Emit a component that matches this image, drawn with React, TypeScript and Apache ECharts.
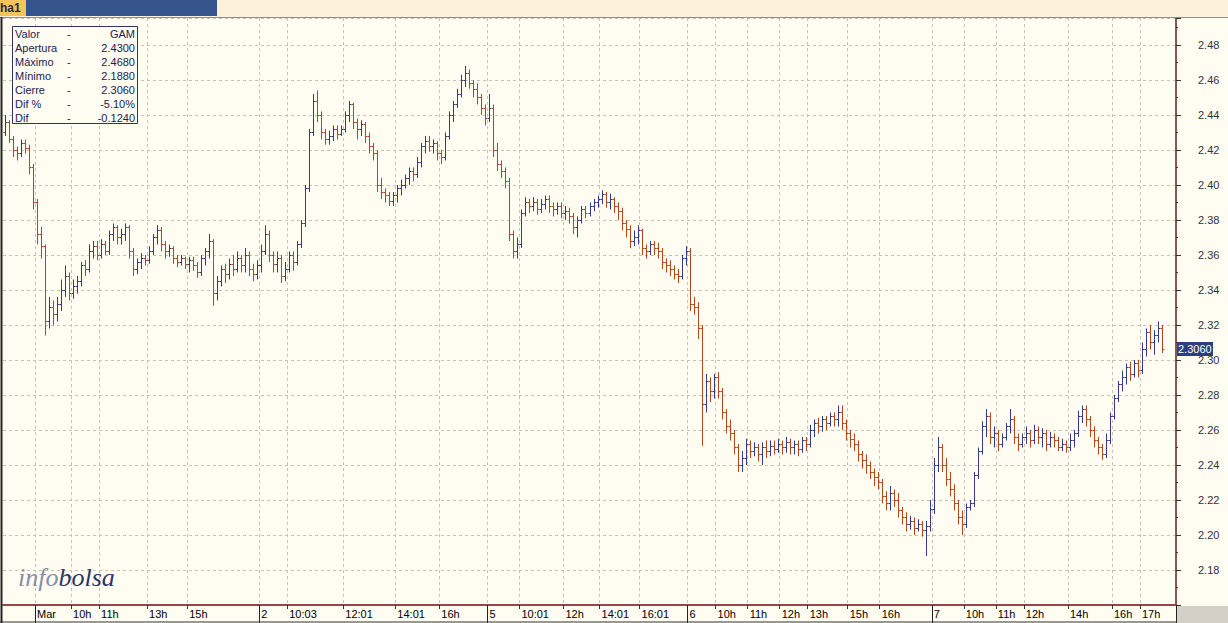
import React, { useEffect, useRef } from "react";
import * as echarts from "echarts";

// OHLC bars: [open, close, low, high]
const PRE_BARS: number[][] = [
  [2.430, 2.436, 2.428, 2.440], [2.436, 2.426, 2.424, 2.437], [2.426, 2.420, 2.416, 2.428], [2.420, 2.418, 2.414, 2.422],
  [2.418, 2.424, 2.416, 2.426], [2.424, 2.421, 2.418, 2.426], [2.421, 2.410, 2.406, 2.423], [2.410, 2.390, 2.386, 2.412],
];
const MAR1_BARS: number[][] = [
  [2.390, 2.372, 2.366, 2.392], [2.372, 2.365, 2.358, 2.376], [2.365, 2.322, 2.314, 2.366], [2.322, 2.330, 2.318, 2.336],
  [2.330, 2.326, 2.320, 2.334], [2.326, 2.332, 2.322, 2.336], [2.332, 2.340, 2.328, 2.346], [2.340, 2.348, 2.336, 2.354],
  [2.348, 2.338, 2.334, 2.350], [2.338, 2.342, 2.335, 2.346], [2.342, 2.345, 2.338, 2.348], [2.345, 2.354, 2.342, 2.356],
  [2.354, 2.352, 2.348, 2.357], [2.352, 2.362, 2.350, 2.366], [2.362, 2.365, 2.358, 2.368], [2.365, 2.360, 2.357, 2.368],
  [2.360, 2.366, 2.358, 2.369], [2.366, 2.362, 2.360, 2.368], [2.362, 2.372, 2.360, 2.374], [2.372, 2.376, 2.368, 2.378],
  [2.376, 2.370, 2.366, 2.377], [2.370, 2.372, 2.366, 2.375], [2.372, 2.376, 2.368, 2.378], [2.376, 2.362, 2.358, 2.377],
  [2.362, 2.352, 2.348, 2.364], [2.352, 2.356, 2.349, 2.358], [2.356, 2.358, 2.352, 2.361], [2.358, 2.357, 2.354, 2.360],
  [2.357, 2.362, 2.355, 2.365], [2.362, 2.370, 2.360, 2.372], [2.370, 2.374, 2.366, 2.377], [2.374, 2.366, 2.362, 2.376],
  [2.366, 2.362, 2.358, 2.368], [2.362, 2.364, 2.359, 2.366], [2.364, 2.358, 2.355, 2.365], [2.358, 2.356, 2.353, 2.360],
  [2.356, 2.358, 2.354, 2.360], [2.358, 2.355, 2.352, 2.359], [2.355, 2.357, 2.350, 2.359], [2.357, 2.354, 2.351, 2.359],
  [2.354, 2.350, 2.347, 2.356], [2.350, 2.358, 2.348, 2.360], [2.358, 2.362, 2.354, 2.364], [2.362, 2.368, 2.358, 2.372],
  [2.368, 2.338, 2.331, 2.369], [2.338, 2.345, 2.334, 2.348], [2.345, 2.352, 2.342, 2.354], [2.352, 2.349, 2.344, 2.355],
  [2.349, 2.355, 2.346, 2.358], [2.355, 2.352, 2.348, 2.360], [2.352, 2.358, 2.350, 2.362], [2.358, 2.354, 2.350, 2.360],
  [2.354, 2.360, 2.350, 2.364], [2.360, 2.352, 2.348, 2.362], [2.352, 2.349, 2.345, 2.355], [2.349, 2.354, 2.346, 2.357],
];
const DAY2_BARS: number[][] = [
  [2.354, 2.362, 2.350, 2.366], [2.362, 2.372, 2.360, 2.377], [2.372, 2.360, 2.356, 2.374], [2.360, 2.355, 2.350, 2.362],
  [2.355, 2.358, 2.350, 2.362], [2.358, 2.348, 2.344, 2.360], [2.348, 2.352, 2.345, 2.356], [2.352, 2.360, 2.350, 2.362],
  [2.360, 2.356, 2.351, 2.362], [2.356, 2.366, 2.354, 2.368], [2.366, 2.378, 2.364, 2.380], [2.378, 2.398, 2.376, 2.400],
  [2.398, 2.430, 2.396, 2.432], [2.430, 2.448, 2.428, 2.452], [2.448, 2.440, 2.436, 2.454], [2.440, 2.430, 2.426, 2.442],
  [2.430, 2.426, 2.423, 2.432], [2.426, 2.428, 2.423, 2.431], [2.428, 2.432, 2.425, 2.434], [2.432, 2.429, 2.426, 2.434],
  [2.429, 2.432, 2.428, 2.434], [2.432, 2.440, 2.430, 2.442], [2.440, 2.446, 2.436, 2.448], [2.446, 2.436, 2.432, 2.447],
  [2.436, 2.432, 2.426, 2.438], [2.432, 2.435, 2.428, 2.437], [2.435, 2.428, 2.424, 2.436], [2.428, 2.422, 2.418, 2.430],
  [2.422, 2.418, 2.414, 2.424], [2.418, 2.400, 2.396, 2.420], [2.400, 2.396, 2.392, 2.404], [2.396, 2.394, 2.390, 2.398],
  [2.394, 2.391, 2.388, 2.396], [2.391, 2.394, 2.388, 2.396], [2.394, 2.398, 2.390, 2.400], [2.398, 2.400, 2.394, 2.403],
  [2.400, 2.404, 2.398, 2.406], [2.404, 2.408, 2.400, 2.410], [2.408, 2.406, 2.402, 2.410], [2.406, 2.413, 2.404, 2.416],
  [2.413, 2.422, 2.410, 2.424], [2.422, 2.425, 2.418, 2.428], [2.425, 2.422, 2.419, 2.428], [2.422, 2.424, 2.418, 2.426],
  [2.424, 2.418, 2.414, 2.425], [2.418, 2.416, 2.412, 2.420], [2.416, 2.428, 2.414, 2.430], [2.428, 2.440, 2.426, 2.442],
  [2.440, 2.446, 2.436, 2.448], [2.446, 2.452, 2.444, 2.455], [2.452, 2.460, 2.450, 2.463], [2.460, 2.464, 2.456, 2.468],
  [2.464, 2.458, 2.455, 2.466], [2.458, 2.455, 2.450, 2.460], [2.455, 2.450, 2.446, 2.458], [2.450, 2.444, 2.440, 2.452],
  [2.444, 2.438, 2.434, 2.446],
];
const DAY5_BARS: number[][] = [
  [2.438, 2.444, 2.436, 2.452], [2.444, 2.420, 2.416, 2.446], [2.420, 2.412, 2.408, 2.424], [2.412, 2.408, 2.404, 2.414],
  [2.408, 2.402, 2.398, 2.410], [2.402, 2.372, 2.368, 2.404], [2.372, 2.362, 2.358, 2.374], [2.362, 2.366, 2.358, 2.370],
  [2.366, 2.384, 2.364, 2.386], [2.384, 2.390, 2.382, 2.393], [2.390, 2.388, 2.384, 2.392], [2.388, 2.390, 2.385, 2.393],
  [2.390, 2.386, 2.383, 2.392], [2.386, 2.389, 2.384, 2.392], [2.389, 2.392, 2.386, 2.394], [2.392, 2.388, 2.384, 2.394],
  [2.388, 2.386, 2.382, 2.390], [2.386, 2.388, 2.383, 2.390], [2.388, 2.384, 2.381, 2.390], [2.384, 2.385, 2.380, 2.388],
  [2.385, 2.382, 2.378, 2.387], [2.382, 2.376, 2.372, 2.384], [2.376, 2.380, 2.370, 2.382], [2.380, 2.386, 2.378, 2.388],
  [2.386, 2.384, 2.381, 2.388], [2.384, 2.388, 2.382, 2.390], [2.388, 2.390, 2.385, 2.392], [2.390, 2.392, 2.387, 2.394],
  [2.392, 2.395, 2.389, 2.397], [2.395, 2.390, 2.387, 2.396], [2.390, 2.392, 2.386, 2.395], [2.392, 2.388, 2.384, 2.393],
  [2.388, 2.385, 2.380, 2.390], [2.385, 2.378, 2.374, 2.387], [2.378, 2.375, 2.370, 2.380], [2.375, 2.368, 2.364, 2.377],
  [2.368, 2.370, 2.365, 2.374], [2.370, 2.374, 2.366, 2.377], [2.374, 2.364, 2.360, 2.375], [2.364, 2.362, 2.358, 2.366],
  [2.362, 2.366, 2.360, 2.368], [2.366, 2.364, 2.360, 2.368], [2.364, 2.362, 2.358, 2.367], [2.362, 2.356, 2.352, 2.364],
  [2.356, 2.354, 2.350, 2.358], [2.354, 2.352, 2.348, 2.357], [2.352, 2.349, 2.346, 2.354], [2.349, 2.348, 2.344, 2.352],
  [2.348, 2.358, 2.346, 2.360], [2.358, 2.362, 2.354, 2.365],
];
const DAY6_BARS: number[][] = [
  [2.362, 2.332, 2.328, 2.364], [2.332, 2.330, 2.326, 2.336], [2.330, 2.318, 2.312, 2.333], [2.318, 2.275, 2.251, 2.320],
  [2.275, 2.288, 2.270, 2.292], [2.288, 2.282, 2.276, 2.290], [2.282, 2.290, 2.278, 2.292], [2.290, 2.282, 2.278, 2.293],
  [2.282, 2.270, 2.266, 2.284], [2.270, 2.262, 2.258, 2.272], [2.262, 2.258, 2.254, 2.266], [2.258, 2.250, 2.246, 2.260],
  [2.250, 2.240, 2.236, 2.252], [2.240, 2.244, 2.236, 2.248], [2.244, 2.252, 2.240, 2.255], [2.252, 2.248, 2.244, 2.254],
  [2.248, 2.250, 2.245, 2.253], [2.250, 2.246, 2.242, 2.252], [2.246, 2.250, 2.240, 2.253], [2.250, 2.248, 2.244, 2.254],
  [2.248, 2.251, 2.245, 2.254], [2.251, 2.249, 2.246, 2.254], [2.249, 2.252, 2.247, 2.255], [2.252, 2.250, 2.246, 2.254],
  [2.250, 2.253, 2.247, 2.256], [2.253, 2.250, 2.246, 2.255], [2.250, 2.252, 2.246, 2.254], [2.252, 2.249, 2.245, 2.254],
  [2.249, 2.254, 2.247, 2.256], [2.254, 2.252, 2.248, 2.256], [2.252, 2.260, 2.250, 2.263], [2.260, 2.264, 2.256, 2.266],
  [2.264, 2.262, 2.258, 2.267], [2.262, 2.266, 2.259, 2.268], [2.266, 2.264, 2.260, 2.268], [2.264, 2.268, 2.262, 2.270],
  [2.268, 2.266, 2.262, 2.270], [2.266, 2.270, 2.262, 2.274], [2.270, 2.264, 2.260, 2.274], [2.264, 2.258, 2.254, 2.266],
  [2.258, 2.255, 2.250, 2.260], [2.255, 2.252, 2.248, 2.258], [2.252, 2.246, 2.242, 2.254], [2.246, 2.243, 2.238, 2.248],
  [2.243, 2.240, 2.235, 2.246], [2.240, 2.236, 2.232, 2.242], [2.236, 2.233, 2.228, 2.238], [2.233, 2.230, 2.226, 2.236],
  [2.230, 2.222, 2.218, 2.232], [2.222, 2.218, 2.214, 2.225], [2.218, 2.224, 2.214, 2.228], [2.224, 2.220, 2.216, 2.226],
  [2.220, 2.214, 2.210, 2.224], [2.214, 2.210, 2.206, 2.216], [2.210, 2.206, 2.202, 2.213], [2.206, 2.208, 2.203, 2.211],
  [2.208, 2.204, 2.200, 2.210], [2.204, 2.206, 2.202, 2.209], [2.206, 2.203, 2.199, 2.208], [2.203, 2.205, 2.188, 2.208],
  [2.205, 2.215, 2.202, 2.220],
];
const DAY7_BARS: number[][] = [
  [2.215, 2.240, 2.212, 2.244], [2.240, 2.250, 2.236, 2.256], [2.250, 2.240, 2.236, 2.252], [2.240, 2.232, 2.228, 2.244],
  [2.232, 2.226, 2.222, 2.236], [2.226, 2.218, 2.214, 2.229], [2.218, 2.210, 2.206, 2.220], [2.210, 2.206, 2.200, 2.214],
  [2.206, 2.216, 2.204, 2.218], [2.216, 2.218, 2.214, 2.220], [2.218, 2.234, 2.216, 2.236], [2.234, 2.248, 2.232, 2.250],
  [2.248, 2.262, 2.246, 2.265], [2.262, 2.268, 2.256, 2.272], [2.268, 2.256, 2.252, 2.270], [2.256, 2.258, 2.250, 2.262],
  [2.258, 2.252, 2.248, 2.260], [2.252, 2.256, 2.250, 2.258], [2.256, 2.262, 2.254, 2.264], [2.262, 2.266, 2.258, 2.272],
  [2.266, 2.256, 2.252, 2.268], [2.256, 2.252, 2.248, 2.258], [2.252, 2.256, 2.250, 2.258], [2.256, 2.258, 2.252, 2.262],
  [2.258, 2.254, 2.250, 2.260], [2.254, 2.260, 2.252, 2.263], [2.260, 2.256, 2.252, 2.262], [2.256, 2.258, 2.250, 2.261],
  [2.258, 2.252, 2.248, 2.260], [2.252, 2.256, 2.250, 2.259], [2.256, 2.254, 2.250, 2.258], [2.254, 2.250, 2.248, 2.256],
  [2.250, 2.252, 2.248, 2.255], [2.252, 2.250, 2.247, 2.254], [2.250, 2.254, 2.248, 2.258], [2.254, 2.258, 2.250, 2.260],
  [2.258, 2.268, 2.256, 2.271], [2.268, 2.272, 2.264, 2.274], [2.272, 2.266, 2.262, 2.274], [2.266, 2.260, 2.256, 2.268],
  [2.260, 2.254, 2.250, 2.262], [2.254, 2.250, 2.246, 2.256], [2.250, 2.246, 2.243, 2.252], [2.246, 2.254, 2.244, 2.258],
  [2.254, 2.268, 2.252, 2.270], [2.268, 2.278, 2.266, 2.280], [2.278, 2.286, 2.276, 2.288], [2.286, 2.290, 2.282, 2.294],
  [2.290, 2.296, 2.286, 2.298], [2.296, 2.292, 2.288, 2.299], [2.292, 2.298, 2.290, 2.300], [2.298, 2.294, 2.290, 2.300],
  [2.294, 2.306, 2.292, 2.310], [2.306, 2.316, 2.302, 2.318], [2.316, 2.310, 2.306, 2.320], [2.310, 2.314, 2.303, 2.317],
  [2.314, 2.318, 2.310, 2.322], [2.318, 2.306, 2.304, 2.320],
];

const SLOT_COUNT = 293;
const TIME_TICKS: [number, string][] = [
  [8, "Mar"], [17, "10h"], [24, "11h"], [36, "13h"], [46, "15h"],
  [64, "2"], [71, "10:03"], [85, "12:01"], [98, "14:01"], [109, "16h"],
  [121, "5"], [129, "10:01"], [140, "12h"], [149, "14:01"], [159, "16:01"],
  [171, "6"], [178, "10h"], [186, "11h"], [194, "12h"], [201, "13h"], [211, "15h"], [219, "16h"],
  [232, "7"], [240, "10h"], [248, "11h"], [255, "12h"], [266, "14h"], [277, "16h"], [284, "17h"],
];
const DAY_TICKS = [8, 64, 121, 171, 232];
const Y_MIN = 2.16;
const Y_MAX = 2.4954;
const Y_STEP = 0.02;
const INFO_LABELS = ["Valor", "Apertura", "Máximo", "Mínimo", "Cierre", "Dif %", "Dif"];
const INFO_VALUES = ["GAM", "2.4300", "2.4680", "2.1880", "2.3060", "-5.10%", "-0.1240"];
const LAST_PRICE = 2.306;
const LAST_PRICE_TEXT = "2.3060";

const UP = "#363a8a";
const DOWN = "#b8461c";
const BG = "#FFFCF1";
const GRIDC = "#c9c1b2";
const FONT = "'Liberation Sans', Arial, sans-serif";

export default function App() {
  const ref = useRef<HTMLDivElement>(null);

  useEffect(() => {
    document.body.style.margin = "0";
    if (!ref.current) return;
    const chart = echarts.init(ref.current, undefined, { renderer: "svg" });

    const bars = [PRE_BARS, MAR1_BARS, DAY2_BARS, DAY5_BARS, DAY6_BARS, DAY7_BARS]
      .flat()
      .map((b, i) => [i, b[0], b[1], b[2], b[3]]);
    const categories = Array.from({ length: SLOT_COUNT }, (_, i) => String(i));
    const labelMap: Record<string, string> = {};
    TIME_TICKS.forEach(([i, l]) => (labelMap[String(i)] = l));
    const isTick = (i: number) => labelMap[String(i)] !== undefined;
    const isDay = (i: number) => DAY_TICKS.indexOf(i) >= 0;

    const crisp = (v: number) => Math.round(v) + 0.5;

    chart.setOption({
      animation: false,
      backgroundColor: BG,
      grid: { left: 3, right: 52, top: 18, bottom: 18, containLabel: false },
      xAxis: [
        {
          type: "category",
          data: categories,
          boundaryGap: true,
          position: "bottom",
          axisLine: { show: true, lineStyle: { color: "#9a4545", width: 2 } },
          axisTick: { show: true, interval: (i: number) => isTick(i), length: 4, lineStyle: { color: "#333" } },
          axisLabel: {
            interval: (i: number) => isTick(i),
            formatter: (v: string) => labelMap[v] ?? "",
            align: "left",
            margin: 3,
            color: "#000",
            fontSize: 11,
            fontFamily: FONT,
          },
          splitLine: { show: true, interval: (i: number) => isTick(i), lineStyle: { color: GRIDC, type: [3, 3] } },
        },
        {
          type: "category",
          data: categories,
          boundaryGap: true,
          position: "bottom",
          axisLine: { show: false },
          axisTick: { show: true, interval: (i: number) => isDay(i), length: 18, lineStyle: { color: "#222" } },
          axisLabel: { show: false },
          splitLine: { show: false },
        },
      ],
      yAxis: {
        type: "value",
        position: "right",
        min: Y_MIN,
        max: Y_MAX,
        interval: Y_STEP,
        axisLine: { show: true, lineStyle: { color: "#8a5555", width: 2 } },
        axisTick: { show: true, length: 5, lineStyle: { color: "#333" } },
        minorTick: { show: true, splitNumber: 2, length: 2, lineStyle: { color: "#333" } },
        axisLabel: {
          margin: 22,
          color: "#333",
          fontSize: 11,
          fontFamily: FONT,
          showMinLabel: false,
          showMaxLabel: false,
          formatter: (v: number) => {
            const k = (v - Y_MIN) / Y_STEP;
            if (Math.abs(k - Math.round(k)) > 0.01) return "";
            return v.toFixed(2);
          },
        },
        splitLine: { show: true, lineStyle: { color: GRIDC, type: [3, 3] } },
      },
      series: [
        {
          type: "custom",
          xAxisIndex: 0,
          yAxisIndex: 0,
          encode: { x: 0, y: [1, 2, 3, 4] },
          data: bars,
          renderItem: (_params: any, api: any) => {
            const i = api.value(0);
            const o = api.value(1);
            const c = api.value(2);
            const l = api.value(3);
            const h = api.value(4);
            const x = crisp(api.coord([i, o])[0]);
            const yO = crisp(api.coord([i, o])[1]);
            const yC = crisp(api.coord([i, c])[1]);
            const yL = api.coord([i, l])[1];
            const yH = api.coord([i, h])[1];
            const color = c >= o ? UP : DOWN;
            const st = { stroke: color, lineWidth: 1 };
            return {
              type: "group",
              children: [
                { type: "line", shape: { x1: x, y1: yH, x2: x, y2: yL }, style: st },
                { type: "line", shape: { x1: x - 2, y1: yO, x2: x, y2: yO }, style: st },
                { type: "line", shape: { x1: x, y1: yC, x2: x + 2, y2: yC }, style: st },
              ],
            };
          },
        },
      ],
    });

    const py = chart.convertToPixel({ yAxisIndex: 0 }, LAST_PRICE) as number;

    const infoChildren: any[] = [
      {
        type: "rect",
        shape: { x: 12.5, y: 26.5, width: 125, height: 97 },
        style: { fill: BG, stroke: "#2f3466", lineWidth: 1 },
      },
    ];
    INFO_LABELS.forEach((lab, k) => {
      const y = 34 + 14 * k;
      infoChildren.push(
        { type: "text", style: { x: 15, y, text: lab, fill: "#1c2152", font: `11px ${FONT}`, verticalAlign: "middle" } },
        { type: "text", style: { x: 67, y, text: "-", fill: "#1c2152", font: `11px ${FONT}`, verticalAlign: "middle" } },
        {
          type: "text",
          style: { x: 135, y, text: INFO_VALUES[k], fill: "#1c2152", font: `11px ${FONT}`, align: "right", verticalAlign: "middle" },
        }
      );
    });

    const serif = "'Liberation Serif', 'DejaVu Serif', serif";

    chart.setOption({
      graphic: [
        { type: "rect", z: 50, shape: { x: 0, y: 0, width: 1228, height: 17 }, style: { fill: "#FDF1DC" } },
        { type: "rect", z: 51, shape: { x: 0, y: 0, width: 26, height: 16 }, style: { fill: "#F4C35A" } },
        { type: "rect", z: 51, shape: { x: 26, y: 0, width: 191, height: 16 }, style: { fill: "#34548B" } },
        {
          type: "text",
          z: 52,
          style: { x: 0, y: 8, text: "ha1", fill: "#2a2a40", font: `bold 12px ${FONT}`, verticalAlign: "middle" },
        },
        { type: "line", z: 52, shape: { x1: 0, y1: 17.5, x2: 1228, y2: 17.5 }, style: { stroke: "#8f8f8f", lineWidth: 1 } },
        { type: "line", z: 52, shape: { x1: 1.5, y1: 17, x2: 1.5, y2: 623 }, style: { stroke: "#222", lineWidth: 2 } },
        { type: "line", z: 52, shape: { x1: 0, y1: 622, x2: 1177, y2: 622 }, style: { stroke: "#333", lineWidth: 1 } },
        { type: "rect", z: 52, shape: { x: 1177, y: 606, width: 51, height: 17 }, style: { fill: "#D4D0C8" } },
        { type: "group", z: 60, children: infoChildren },
        {
          type: "text",
          z: 60,
          style: {
            x: 18,
            y: 577,
            text: "{a|info}{b|bolsa}",
            verticalAlign: "middle",
            rich: {
              a: { fill: "#868ea8", color: "#868ea8", fontSize: 26, fontStyle: "italic", fontFamily: serif },
              b: { fill: "#2b3567", color: "#2b3567", fontSize: 26, fontStyle: "italic", fontFamily: serif },
            },
          },
        },
        { type: "rect", z: 60, shape: { x: 1177, y: Math.round(py) - 7, width: 36, height: 14 }, style: { fill: "#2E3F7C" } },
        {
          type: "text",
          z: 61,
          style: { x: 1178, y: Math.round(py), text: LAST_PRICE_TEXT, fill: "#ffffff", font: `11px ${FONT}`, verticalAlign: "middle" },
        },
      ],
    });

    return () => chart.dispose();
  }, []);

  return <div ref={ref} style={{ width: 1228, height: 623 }} />;
}
